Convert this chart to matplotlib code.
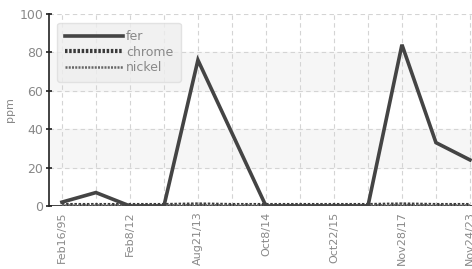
import numpy as np
import matplotlib.pyplot as plt

plt.rcParams['font.family'] = ['Liberation Sans Narrow', 'DejaVu Sans']

# data
dates = ['Feb16/95', '', 'Feb8/12', '', 'Aug21/13', '', 'Oct8/14', '',
         'Oct22/15', '', 'Nov28/17', '', 'Nov24/23']
fer = [2, 7, 0, 0, 76, 38, 0, 0, 0, 0, 84, 33, 24]
chrome = [0.5, 0.5, 0.5, 0.5, 0.8, 0.5, 0.5, 0.5, 0.5, 0.5, 0.8, 0.5, 0.5]
nickel = [0.3, 0.3, 0.3, 0.3, 0.5, 0.3, 0.3, 0.3, 0.3, 0.3, 0.5, 0.3, 0.3]

x = np.arange(len(dates))
grey = '#888888'

fig = plt.figure(figsize=(4.72, 2.69), dpi=100)
ax = fig.add_axes([49/472, 1 - 206/269, 423/472, 192/269])

# alternating bands
for lo, hi in [(20, 40), (60, 80)]:
    ax.axhspan(lo, hi, color='#f6f6f6', zorder=0)

ax.plot(x, fer, color='#444444', lw=2.6, label='fer', zorder=3, solid_joinstyle='miter')
ax.plot(x, chrome, color='#3a3a3a', lw=3.0, ls=(0, (0.6, 0.4)), label='chrome', zorder=2)
ax.plot(x, nickel, color='#666666', lw=1.8, ls=(0, (0.8, 0.5)), label='nickel', zorder=2)

ax.set_xlim(-0.38, 12.06)
ax.set_ylim(0, 100)
ax.set_yticks([0, 20, 40, 60, 80, 100])
ax.set_xticks(x)
ax.set_xticklabels(dates, rotation=90, color=grey, fontsize=8)
ax.tick_params(axis='x', length=0, pad=4)
ax.tick_params(axis='y', colors='#222222', labelcolor=grey, labelsize=9,
               length=4, width=1.2, direction='inout', pad=2)
ax.grid(True, color='#d4d4d4', ls=(0, (4, 3)), lw=0.8)
ax.set_axisbelow(True)

for s in ['top', 'right', 'bottom']:
    ax.spines[s].set_visible(False)
ax.spines['left'].set_color('#222222')
ax.spines['left'].set_linewidth(1.2)
ax.axhline(0, color='#222222', lw=1.2, zorder=1)

ax.set_ylabel('ppm', color=grey, fontsize=8)
ax.yaxis.set_label_coords(-0.08, 0.5)

leg = ax.legend(loc='upper left', bbox_to_anchor=(0.019, 0.955), fontsize=9,
                handlelength=4.7, handletextpad=0.2, labelspacing=0.2,
                frameon=True, fancybox=True, borderpad=0.6, borderaxespad=0)
leg.get_frame().set_facecolor('#eeeeee')
leg.get_frame().set_edgecolor('#dddddd')
for t in leg.get_texts():
    t.set_color(grey)

fig.savefig('out.png', dpi=100)
